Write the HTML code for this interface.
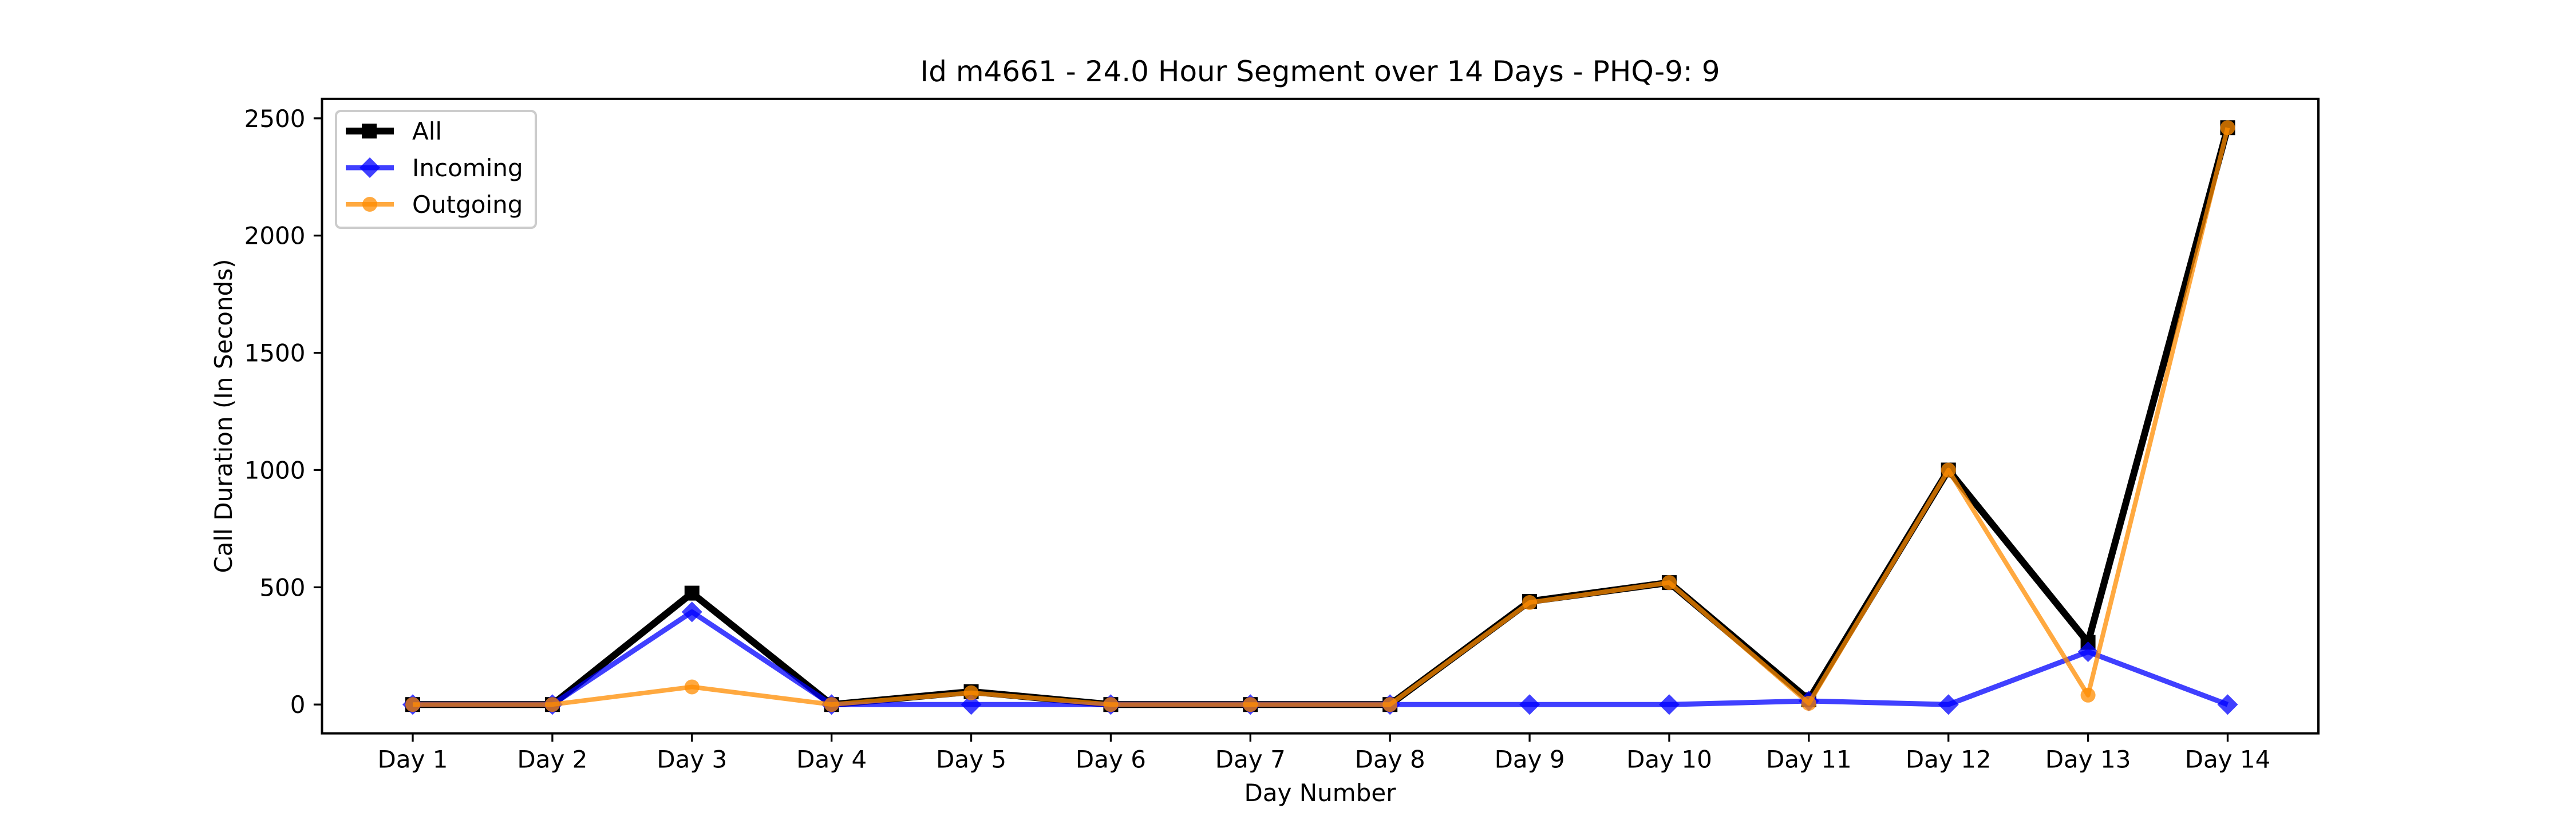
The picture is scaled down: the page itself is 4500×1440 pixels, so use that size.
<!DOCTYPE html>
<html><head><meta charset="utf-8"><style>
html,body{margin:0;padding:0;background:#fff;}
svg{display:block;font-family:"DejaVu Sans","Liberation Sans",sans-serif;}
</style></head><body>
<svg id="chart" width="4500" height="1440" viewBox="0 0 4500 1440" xmlns="http://www.w3.org/2000/svg">
<rect width="4500" height="1440" fill="#fff"/>
<text x="2306" y="142" font-size="50" text-anchor="middle">Id m4661 - 24.0 Hour Segment over 14 Days - PHQ-9: 9</text>
<g id="plot"></g>
<rect x="562.5" y="172.8" width="3487.5" height="1108.8" fill="none" stroke="#000" stroke-width="4"/>
<text x="2306" y="1400" font-size="42" text-anchor="middle">Day Number</text>
<text x="0" y="0" font-size="42" text-anchor="middle" transform="translate(405,727) rotate(-90)">Call Duration (In Seconds)</text>
<g>
<rect x="587" y="194" width="349" height="204" rx="8" fill="#fff" fill-opacity="0.8" stroke="#ccc" stroke-width="4"/>
<g>
<line x1="604" y1="229" x2="688" y2="229" stroke="#000" stroke-width="12"/>
<rect x="632" y="216" width="26" height="26" fill="#000"/>
<text x="720" y="244" font-size="42">All</text>
</g>
<g>
<line x1="604" y1="293" x2="688" y2="293" stroke="#0000ff" stroke-opacity="0.75" stroke-width="9"/>
<polygon points="646,275 664,293 646,311 628,293" fill="#0000ff" fill-opacity="0.75"/>
<text x="720" y="308" font-size="42">Incoming</text>
</g>
<g>
<line x1="604" y1="357" x2="688" y2="357" stroke="#ff8c00" stroke-opacity="0.75" stroke-width="8"/>
<circle cx="646" cy="357" r="13" fill="#ff8c00" fill-opacity="0.75"/>
<text x="720" y="372" font-size="42">Outgoing</text>
</g>
</g>
</svg>
<script>
const categories = ["Day 1","Day 2","Day 3","Day 4","Day 5","Day 6","Day 7","Day 8","Day 9","Day 10","Day 11","Day 12","Day 13","Day 14"];
const allValues = [0,0,475,0,55,0,0,0,440,520,20,1000,265,2460];
const incomingValues = [0,0,395,0,0,0,0,0,0,0,15,0,225,0];
const outgoingValues = [0,0,75,0,50,0,0,0,435,520,5,1000,40,2460];
const yTicks = [0,500,1000,1500,2000,2500];

const NS = "http://www.w3.org/2000/svg";
const L = 562.5, R = 4050, T = 172.8, B = 1281.6;
const n = categories.length;
const xmin = -0.05*(n-1), xmax = (n-1)*1.05;
const all = allValues.concat(incomingValues, outgoingValues);
const dmin = Math.min(...all), dmax = Math.max(...all);
const ymin = dmin - 0.05*(dmax-dmin), ymax = dmax + 0.05*(dmax-dmin);
function xs(i){ return L + (i - xmin)/(xmax - xmin)*(R-L); }
function ys(v){ return B - (v - ymin)/(ymax - ymin)*(B-T); }
const g = document.getElementById('plot');
function el(tag, attrs){ const e = document.createElementNS(NS, tag); for (const k in attrs) e.setAttribute(k, attrs[k]); g.appendChild(e); return e; }

yTicks.forEach(v => {
  const y = ys(v);
  const t = el('line', {x1: L-14.6, x2: L, y1: y, y2: y, stroke: '#000', 'stroke-width': 3.3});
  
  
  const tx = el('text', {x: L-29, y: y+15, 'font-size': 42, 'text-anchor': 'end'});
  tx.textContent = v;
  
  
});
categories.forEach((c, i) => {
  const x = xs(i);
  const t = el('line', {x1: x, x2: x, y1: B, y2: B+14.6, stroke: '#000', 'stroke-width': 3.3});
  
  
  const tx = el('text', {x: x, y: B+60, 'font-size': 42, 'text-anchor': 'middle'});
  tx.textContent = c;
  
  
});

function series(vals, color, op, lw, marker, name){
  const pts = vals.map((v,i) => xs(i)+','+ys(v)).join(' ');
  const pl = el('polyline', {points: pts, fill: 'none', stroke: color, 'stroke-opacity': op, 'stroke-width': lw, 'stroke-linejoin': 'round'});
  
  
  vals.forEach((v,i) => {
    const x = xs(i), y = ys(v);
    let m;
    if (marker === 'square') m = el('rect', {x: x-13, y: y-13, width: 26, height: 26, fill: color});
    else if (marker === 'diamond') m = el('polygon', {points: `${x},${y-18} ${x+18},${y} ${x},${y+18} ${x-18},${y}`, fill: color, 'fill-opacity': op});
    else m = el('circle', {cx: x, cy: y, r: 13, fill: color, 'fill-opacity': op});
    
    
  });
}
series(allValues, '#000000', 1, 12, 'square', 'all');
series(incomingValues, '#0000ff', 0.75, 9, 'diamond', 'incoming');
series(outgoingValues, '#ff8c00', 0.75, 8, 'circle', 'outgoing');
</script>
</body></html>
